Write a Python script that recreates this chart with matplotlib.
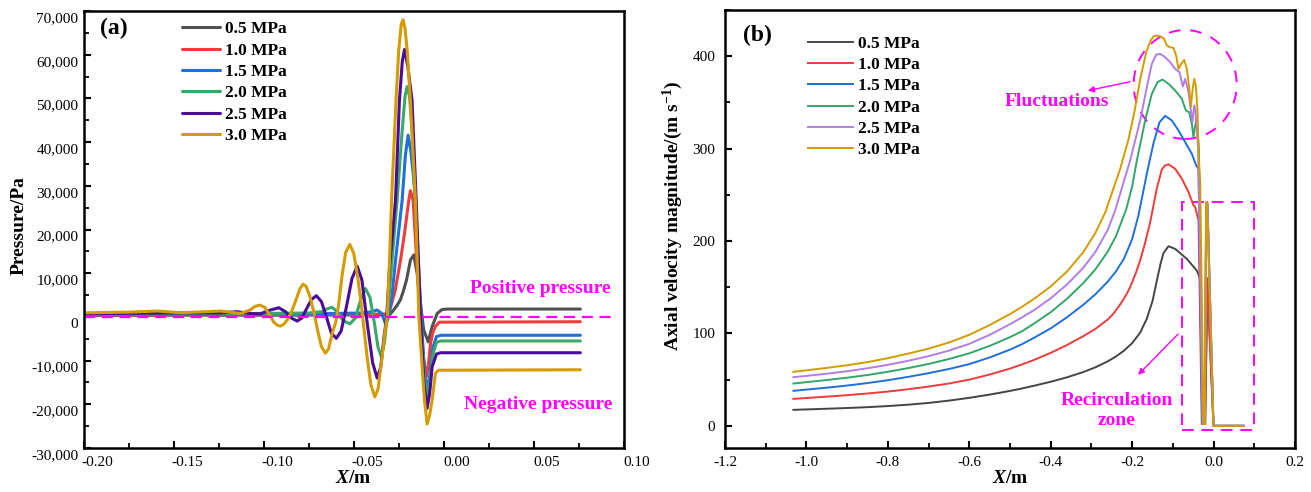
import matplotlib
matplotlib.use('Agg')
import matplotlib.pyplot as plt
from matplotlib.ticker import MultipleLocator
from matplotlib.patches import Ellipse, Rectangle
from matplotlib.transforms import ScaledTranslation

plt.rcParams['font.family'] = ['Liberation Serif', 'DejaVu Serif']
plt.rcParams['axes.unicode_minus'] = False
plt.rcParams['mathtext.fontset'] = 'custom'
plt.rcParams['mathtext.rm'] = 'Liberation Serif'
plt.rcParams['mathtext.bf'] = 'Liberation Serif:bold'
plt.rcParams['mathtext.it'] = 'Liberation Serif:italic'
plt.rcParams['mathtext.bfit'] = 'Liberation Serif:italic:bold'

labels = ['0.5 MPa', '1.0 MPa', '1.5 MPa', '2.0 MPa', '2.5 MPa', '3.0 MPa']
colors_a = ['#505050', '#f03c3c', '#1f6fdc', '#3aa86a', '#4a0c98', '#d49c00']
colors_b = ['#454545', '#ee3b3b', '#1f6fdc', '#33a66a', '#b27ee6', '#d49c00']

# ---- pressure along the axis, X in m, P in Pa ----
xa_05 = [-0.205, -0.150, -0.100, -0.050, -0.032, -0.0298, -0.0278, -0.0260, -0.0241, -0.0225,
         -0.0207, -0.0185, -0.0166, -0.0148, -0.0125, -0.0111, -0.0086, -0.0064, -0.0036,
         -0.0009, 0.0020, 0.076]
pa_05 = [300, 400, 400, 450, 450, 600, 1600, 2600, 3900, 5800,
         8400, 13000, 14200, 10000, 1600, -3000, -5700, -2200, 800,
         1700, 1800, 1800]

xa_10 = [-0.205, -0.150, -0.100, -0.050, -0.035, -0.0305, -0.0270, -0.0240, -0.0218, -0.0194,
         -0.0185, -0.0170, -0.0148, -0.0129, -0.0112, -0.0096, -0.0085, -0.0073, -0.0060,
         -0.0046, -0.0025, 0.076]
pa_10 = [400, 500, 550, 600, 650, 700, 6000, 13000, 19100, 26700,
         28900, 26700, 11500, 0, -9500, -13700, -11000, -6000, -3500,
         -2200, -1200, -1100]

xa_15 = [-0.205, -0.150, -0.100, -0.060, -0.045, -0.040, -0.0370, -0.0345, -0.0324, -0.0310,
         -0.0290, -0.0265, -0.0231, -0.0213, -0.0198, -0.0183, -0.0170, -0.0157, -0.0140,
         -0.0125, -0.0108, -0.0092, -0.0078, -0.0060, -0.0040, -0.0015, 0.076]
pa_15 = [500, 600, 700, 800, 900, 1200, 1600, 800, -1500, -500,
         4000, 14000, 26700, 37000, 41600, 38000, 33000, 26700, 12000,
         0, -12000, -17000, -13500, -7000, -4500, -4200, -4200]

xa_20 = [-0.205, -0.150, -0.100, -0.075, -0.068, -0.0645, -0.0621, -0.0595, -0.056, -0.0522,
         -0.049, -0.0465, -0.0435, -0.041, -0.0385, -0.0365, -0.0346, -0.0330, -0.0314,
         -0.0295, -0.0259, -0.0232, -0.0215, -0.0203, -0.0190, -0.0175, -0.0159, -0.0129,
         -0.0110, -0.0092, -0.0078, -0.0059, -0.0040, -0.0015, 0.076]
pa_20 = [600, 700, 800, 900, 1200, 1900, 2200, 1300, -800, -1600,
         -200, 3500, 6500, 4500, -1500, -7000, -9100, -6000, 0,
         9000, 26700, 42000, 50500, 52700, 50500, 42000, 26700, 0,
         -13000, -18500, -15000, -8500, -5800, -5500, -5500]

xa_25 = [-0.205, -0.180, -0.150, -0.125, -0.1149, -0.108, -0.102, -0.097, -0.0917, -0.088,
         -0.0845, -0.0815, -0.079, -0.0762, -0.0735, -0.0708, -0.068, -0.0652, -0.0625,
         -0.0597, -0.057, -0.054, -0.051, -0.0481, -0.0455, -0.0425, -0.0395, -0.0370,
         -0.0350, -0.0333, -0.0317, -0.0300, -0.0268, -0.0246, -0.0230, -0.0218, -0.0200,
         -0.0176, -0.0153, -0.0129, -0.0110, -0.0092, -0.0078, -0.0064, -0.0040, -0.0018, 0.076]
pa_25 = [700, 800, 900, 900, 1200, 800, 700, 1500, 2100, 1200,
         -300, -950, -300, 1900, 4000, 4850, 3500, 0, -3700,
         -4900, -3200, 2500, 8800, 11600, 8500, -1500, -10500, -14000,
         -11500, -5000, 0, 12000, 26700, 49600, 58500, 61200, 57500,
         49600, 26700, 0, -15000, -20900, -17500, -11400, -8500, -8200, -8200]

xa_30 = [-0.205, -0.190, -0.175, -0.159, -0.146, -0.135, -0.124, -0.113, -0.1075, -0.105,
         -0.1023, -0.0995, -0.097, -0.0945, -0.0925, -0.0908, -0.089, -0.087, -0.085,
         -0.0825, -0.080, -0.0782, -0.0765, -0.0745, -0.072, -0.070, -0.068, -0.0658,
         -0.064, -0.062, -0.060, -0.0585, -0.0565, -0.0545, -0.0522, -0.050, -0.0478,
         -0.046, -0.0444, -0.0425, -0.0405, -0.0383, -0.0365, -0.0345, -0.0325, -0.0314,
         -0.0302, -0.0290, -0.0265, -0.0250, -0.0236, -0.0226, -0.0215, -0.0203, -0.0185,
         -0.0157, -0.0138, -0.0120, -0.0107, -0.0092, -0.0078, -0.0064, -0.0046, -0.0030, 0.076]
pa_30 = [900, 1000, 1100, 1350, 950, 1150, 1350, 800, 1600, 2400,
         2700, 2200, 600, -1200, -1900, -2100, -1700, -700, 800,
         3500, 6400, 7500, 7000, 4800, 800, -3300, -6800, -8300,
         -7300, -3800, -1200, 2500, 9500, 14800, 16600, 14500, 9000,
         3500, -2500, -9500, -15500, -18300, -16500, -10000, -3000, 0,
         12000, 26700, 49600, 61000, 67000, 68000, 66000, 61000, 49600,
         26700, 0, -11400, -19000, -24500, -22500, -19000, -12900, -12200, -12100]

# ---- axial velocity, X in m, V in m/s ----
xb_05 = [-1.032, -0.95, -0.90, -0.85, -0.80, -0.75, -0.70, -0.65, -0.60, -0.55, -0.50, -0.47,
         -0.44, -0.40, -0.36, -0.32, -0.29, -0.26, -0.24, -0.22, -0.20, -0.18, -0.164, -0.15,
         -0.1394, -0.13, -0.123, -0.1107, -0.0943, -0.0657, -0.0411, -0.0329, -0.0255,
         -0.0206, -0.0149, -0.0002, 0.0735]
vb_05 = [17.3, 18.5, 19.3, 20.2, 21.4, 22.9, 24.8, 27.3, 30.3, 33.8, 37.8, 40.5,
         43.5, 47.7, 52.5, 58.2, 63.4, 69.8, 75, 81.4, 89.5, 101, 116, 135,
         157, 176, 187, 194.4, 191.5, 180.7, 168, 159, 2,
         2, 153.6, 0, 0]

xb_10 = [-1.032, -0.95, -0.90, -0.85, -0.80, -0.75, -0.70, -0.65, -0.60, -0.55, -0.50, -0.47,
         -0.44, -0.40, -0.36, -0.32, -0.29, -0.26, -0.2459, -0.23, -0.215, -0.2049, -0.19,
         -0.1803, -0.17, -0.1558, -0.1394, -0.1271, -0.12, -0.1107, -0.0943, -0.0779, -0.0616,
         -0.0493, -0.0452, -0.0370, -0.0290, -0.0206, -0.0160, -0.0002, 0.0735]
vb_10 = [29.2, 31.6, 33.2, 35.0, 37.1, 39.6, 42.5, 45.8, 50.0, 55.5, 62, 66.5,
         71.5, 79, 87.5, 97, 105, 115, 121.4, 131, 141.5, 150, 166.5,
         179, 195, 220, 257, 277.5, 281.5, 283, 278.2, 267.4, 253,
         238.6, 236.8, 222.4, 2, 2, 160, 0, 0]

xb_15 = [-1.032, -0.95, -0.90, -0.85, -0.80, -0.75, -0.70, -0.65, -0.60, -0.55, -0.50, -0.47,
         -0.44, -0.40, -0.36, -0.32, -0.29, -0.26, -0.24, -0.22, -0.20, -0.1844, -0.1639,
         -0.1475, -0.1328, -0.1189, -0.1025, -0.0862, -0.0698, -0.0534, -0.0427, -0.0370,
         -0.0280, -0.0220, -0.0180, -0.0150, -0.0002, 0.0735]
vb_15 = [37.9, 41.3, 43.6, 46.3, 49.4, 53.0, 57.0, 61.5, 66.8, 74, 82.5, 88.5,
         95.5, 105.5, 117.5, 131, 142.5, 156, 167, 181, 202, 228, 273,
         306, 328.5, 335.5, 330.5, 319.7, 307.1, 294.4, 281.8, 278,
         2, 2, 240, 240, 0, 0]

xb_20 = [-1.032, -0.95, -0.90, -0.85, -0.80, -0.75, -0.70, -0.65, -0.60, -0.55, -0.50, -0.47,
         -0.44, -0.40, -0.36, -0.32, -0.29, -0.26, -0.24, -0.2147, -0.20, -0.1885, -0.168,
         -0.1517, -0.1377, -0.1254, -0.1107, -0.0943, -0.0779, -0.0681, -0.0600, -0.0534,
         -0.0493, -0.0452, -0.0419, -0.0360, -0.0275, -0.0215, -0.0180, -0.0150, -0.0002, 0.0735]
vb_20 = [45.8, 49.6, 52.1, 55.0, 58.5, 62.5, 67.0, 72.3, 78.5, 86.5, 96, 102.5,
         111, 123, 137.5, 154.5, 169.5, 188.5, 205, 234, 259, 287, 330.5,
         359.3, 371.9, 374.8, 370.1, 362.9, 353.9, 341.3, 339.5, 326.9,
         312.4, 325.1, 330.5, 300, 2, 2, 240, 240, 0, 0]

xb_25 = [-1.032, -0.95, -0.90, -0.85, -0.80, -0.75, -0.70, -0.65, -0.60, -0.55, -0.50, -0.47,
         -0.44, -0.40, -0.36, -0.32, -0.29, -0.26, -0.2418, -0.2049, -0.1803, -0.1639, -0.1517,
         -0.1410, -0.1312, -0.1189, -0.1066, -0.0943, -0.0837, -0.0755, -0.0698, -0.0616,
         -0.0558, -0.0518, -0.0477, -0.0444, -0.0380, -0.0265, -0.0215, -0.0182, -0.0150,
         -0.0002, 0.0735]
vb_25 = [52.6, 56.4, 59.1, 62.3, 66.0, 70.4, 75.4, 81.4, 88.7, 98.5, 110, 117.5,
         125.5, 138, 153, 171, 188.5, 212, 233, 287.2, 330.5, 366.5, 391.7,
         401.8, 402.5, 399, 393.5, 386.3, 382.7, 367.2, 375.5, 361.1,
         341.3, 328.7, 346.7, 341.3, 300, 2, 2, 242, 242,
         0, 0]

xb_30 = [-1.032, -0.95, -0.90, -0.85, -0.80, -0.75, -0.70, -0.65, -0.60, -0.55, -0.50, -0.47,
         -0.44, -0.40, -0.36, -0.32, -0.29, -0.266, -0.2295, -0.209, -0.1943, -0.1803, -0.1656,
         -0.1558, -0.1476, -0.1394, -0.1312, -0.1214, -0.1148, -0.1067, -0.0985, -0.0919,
         -0.0862, -0.0796, -0.0722, -0.0657, -0.0600, -0.0558, -0.0518, -0.0477, -0.0436,
         -0.0395, -0.0362, -0.0329, -0.0247, -0.0215, -0.0185, -0.0165, -0.0002, 0.0735]
vb_30 = [58.4, 62.7, 65.6, 69.0, 73.2, 78.2, 83.5, 90.2, 98.5, 109, 121, 129,
         137.7, 150.9, 167, 188, 209, 231, 278, 310, 340, 375, 404,
         416, 421.5, 422.4, 421.6, 418.8, 411.6, 409.8, 409, 400.7,
         386.3, 391.7, 396, 386.3, 366.5, 344.9, 362.9, 375.5, 368.3,
         341.3, 287.2, 265, 2, 2, 242, 242, 0, 0]

xticks_a = [-0.20, -0.15, -0.10, -0.05, 0.00, 0.05, 0.10]
yticks_a = [-30000, -20000, -10000, 0, 10000, 20000, 30000, 40000, 50000, 60000, 70000]
xticks_b = [-1.2, -1.0, -0.8, -0.6, -0.4, -0.2, 0.0, 0.2]
yticks_b = [0, 100, 200, 300, 400]

series_a = [(xa_05, pa_05), (xa_10, pa_10), (xa_15, pa_15),
            (xa_20, pa_20), (xa_25, pa_25), (xa_30, pa_30)]
series_b = [(xb_05, vb_05), (xb_10, vb_10), (xb_15, vb_15),
            (xb_20, vb_20), (xb_25, vb_25), (xb_30, vb_30)]

MAG = '#ff00ff'
fig = plt.figure(figsize=(13.11, 4.92), dpi=100)
ax1 = fig.add_axes([0.0641, 0.0894, 0.4115, 0.8882])
ax2 = fig.add_axes([0.5530, 0.0894, 0.4348, 0.8902])


def style_axes(ax):
    for s in ax.spines.values():
        s.set_linewidth(1.8)
    ax.tick_params(which='both', direction='in', top=False, right=False, labelsize=11)
    ax.tick_params(which='major', length=5, width=1.5)
    ax.tick_params(which='minor', length=3.5, width=1.3)
    ax.tick_params(axis='x', pad=6)
    ax.tick_params(axis='y', pad=4)


# (a) pressure
for (x, p), c, lab in zip(series_a, colors_a, labels):
    ax1.plot(x, p, color=c, lw=2.2, label=lab, solid_capstyle='round')
ax1.plot([-0.2, 0.093], [0, 0], color=MAG, lw=1.6, ls=(0, (5, 3)))
ax1.set_xlim(-0.2, 0.1)
ax1.set_ylim(-30000, 70000)
ax1.set_xticks(xticks_a)
ax1.set_xticklabels([f'{v:.2f}' for v in xticks_a])
ax1.set_yticks(yticks_a)
ax1.set_yticklabels([f'{v:,}' for v in yticks_a])
ax1.xaxis.set_minor_locator(MultipleLocator(0.025))
ax1.yaxis.set_minor_locator(MultipleLocator(5000))
style_axes(ax1)
ax1.set_xlabel(r'$\mathbfit{X}$/m', fontsize=14, fontweight='bold')
ax1.xaxis.set_label_coords(0.5, -0.05)
ax1.set_ylabel('Pressure/Pa', fontsize=14, fontweight='bold')
ax1.yaxis.set_label_coords(-0.104, 0.51)
ax1.text(0.03, 0.961, '(a)', transform=ax1.transAxes, fontsize=17,
         fontweight='bold', va='center', ha='left')
ax1.text(0.0536, 6600, 'Positive pressure', color=MAG, fontsize=14,
         fontweight='bold', ha='center', va='center')
ax1.text(0.0528, -20000, 'Negative pressure', color=MAG, fontsize=14,
         fontweight='bold', ha='center', va='center')
ax1.legend(loc='upper left', bbox_to_anchor=(0.1816, 0.977), frameon=False,
           prop={'weight': 'bold', 'size': 12.5}, handlelength=2.2,
           handletextpad=0.3, labelspacing=0.3, borderpad=0, borderaxespad=0)

# tick labels in (a) sit a little right and below their ticks
dx = ScaledTranslation(13 / 100, 0, fig.dpi_scale_trans)
dy = ScaledTranslation(0, -6 / 100, fig.dpi_scale_trans)
for t in ax1.get_xticklabels():
    t.set_transform(t.get_transform() + dx)
for t in ax1.get_yticklabels():
    t.set_transform(t.get_transform() + dy)

# (b) axial velocity
for (x, v), c, lab in zip(series_b, colors_b, labels):
    ax2.plot(x, v, color=c, lw=1.4, label=lab)
ax2.set_xlim(-1.2, 0.2)
ax2.set_ylim(-24, 450)
ax2.set_xticks(xticks_b)
ax2.set_xticklabels([f'{v:.1f}' for v in xticks_b])
ax2.set_yticks(yticks_b)
ax2.xaxis.set_minor_locator(MultipleLocator(0.1))
ax2.yaxis.set_minor_locator(MultipleLocator(50))
style_axes(ax2)
ax2.tick_params(axis='y', pad=7)
ax2.set_xlabel(r'$\mathbfit{X}$/m', fontsize=14, fontweight='bold')
ax2.xaxis.set_label_coords(0.5, -0.05)
ax2.set_ylabel(r'Axial velocity magnitude/(m s$^{\mathbf{-1}}$)', fontsize=14,
               fontweight='bold')
ax2.yaxis.set_label_coords(-0.07, 0.53)
ax2.text(0.032, 0.943, '(b)', transform=ax2.transAxes, fontsize=17,
         fontweight='bold', va='center', ha='left')
ax2.legend(loc='upper left', bbox_to_anchor=(0.1456, 0.942), frameon=False,
           prop={'weight': 'bold', 'size': 12.5}, handlelength=2.6,
           handletextpad=0.3, labelspacing=0.3, borderpad=0, borderaxespad=0)

ax2.add_patch(Ellipse((-0.0698, 369.4), 0.253, 117.8, fill=False, ec=MAG,
                      lw=1.4, ls=(0, (6, 5))))
ax2.add_patch(Rectangle((-0.0779, -4.6), 0.1777, 246.6, fill=False, ec=MAG,
                        lw=1.4, ls=(0, (6, 4))))
ax2.text(-0.384, 351, 'Fluctuations', color=MAG, fontsize=14, fontweight='bold',
         ha='center', va='center')
ax2.annotate('', xy=(-0.3155, 362.2), xytext=(-0.1983, 373),
             arrowprops=dict(arrowstyle='-|>', color=MAG, lw=1, mutation_scale=9))
ax2.annotate('', xy=(-0.1902, 53), xytext=(-0.0821, 101.6),
             arrowprops=dict(arrowstyle='-|>', color=MAG, lw=1, mutation_scale=9))
ax2.text(-0.238, 16.5, 'Recirculation\nzone', color=MAG, fontsize=14,
         fontweight='bold', ha='center', va='center', linespacing=1.25)

fig.savefig('out.png', dpi=100)
